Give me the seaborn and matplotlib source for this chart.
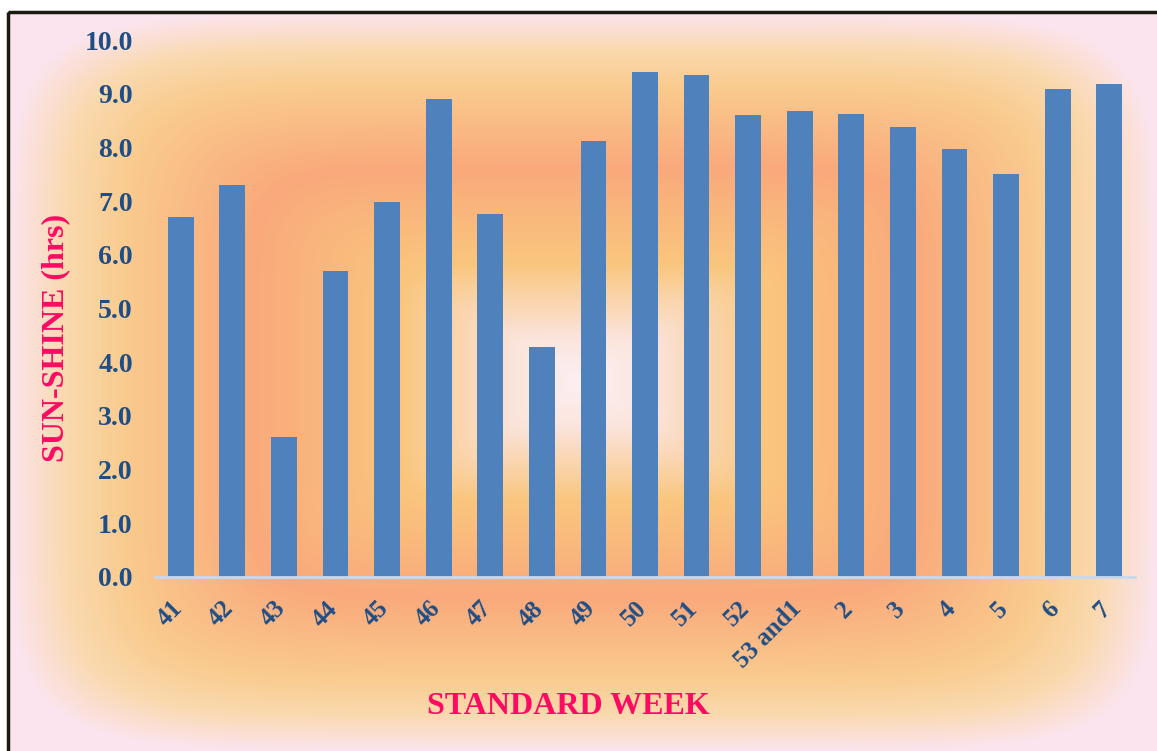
import numpy as np
import pandas as pd
import seaborn as sns
import matplotlib.pyplot as plt
import matplotlib.transforms as mtransforms
from matplotlib.colors import LinearSegmentedColormap
from matplotlib.patches import Rectangle

# Data
weeks = ['41', '42', '43', '44', '45', '46', '47', '48', '49', '50',
         '51', '52', '53 and1', '2', '3', '4', '5', '6', '7']
sunshine = [6.70, 7.30, 2.61, 5.70, 6.98, 8.90, 6.76, 4.28, 8.12, 9.40,
            9.35, 8.60, 8.68, 8.62, 8.38, 7.97, 7.50, 9.09, 9.18]
yticks = [0, 1, 2, 3, 4, 5, 6, 7, 8, 9, 10]

df = pd.DataFrame({'week': weeks, 'sunshine': sunshine})

sns.set_style('white')
plt.rcParams['font.family'] = ['Liberation Serif', 'DejaVu Serif']

W, H = 1157, 751
fig = plt.figure(figsize=(W / 100, H / 100), dpi=100)

# Background: rectangular gradient from the centre, inside a black frame
bg = fig.add_axes([0, 0, 1, 1], zorder=-2)
x0, y0 = 8, 12
xs = np.arange(W)
ys = np.arange(H)
X, Y = np.meshgrid(xs, ys)
cx, cy = (x0 + W) / 2, (y0 + H) / 2
hx, hy = (W - x0) / 2, (H - y0) / 2
p = 7
d = ((np.abs(X - cx) / hx) ** p + (np.abs(Y - cy) / hy) ** p) ** (1 / p)
d = np.clip(d, 0, 1)
cmap = LinearSegmentedColormap.from_list('bg', [
    (0.00, '#FCF0F3'), (0.12, '#FBE4DC'), (0.32, '#F9C67E'),
    (0.58, '#F9A97B'), (0.80, '#F9CB8E'), (0.90, '#FAD9AE'),
    (1.00, '#FCE4EE')])
img = cmap(d)
img[:y0, :, :3] = 1.0
img[:, :x0, :3] = 1.0
bg.imshow(img, extent=[0, W, H, 0], aspect='auto', interpolation='bilinear')
bg.set_xlim(0, W)
bg.set_ylim(H, 0)
bg.axis('off')
bg.add_patch(Rectangle((x0, y0), W + 20, H + 20, fill=False,
                       edgecolor='#1a1a10', linewidth=2.5))

# Main chart
ax = fig.add_axes([155 / W, 1 - 577 / H, (1135 - 155) / W, (577 - 40) / H])
ax.set_facecolor('none')
sns.barplot(data=df, x='week', y='sunshine', color='#4F81BD', saturation=1,
            width=0.5, linewidth=0, ax=ax, zorder=3)

ax.set_xlim(-0.5, len(weeks) - 0.5)
ax.set_ylim(0, 10)
ax.set_yticks(yticks)
ax.set_yticklabels([f'{v:.1f}' for v in yticks], fontsize=20,
                   fontweight='bold', color='#1F4E86')
ax.set_xticks(range(len(weeks)))
ax.set_xticklabels([])
ax.tick_params(axis='both', length=0)
ax.tick_params(axis='y', pad=16)

# rotated week labels, end of text just right of the bar centre
shift = mtransforms.ScaledTranslation(6 / 100, -20 / 100, fig.dpi_scale_trans)
for i, w in enumerate(weeks):
    ax.text(i, 0, w, transform=ax.get_xaxis_transform() + shift,
            rotation=45, ha='right', va='top', fontsize=18,
            fontweight='bold', color='#1F4E86')

for s in ['top', 'right', 'left']:
    ax.spines[s].set_visible(False)
ax.spines['bottom'].set_color('#C6D9F1')
ax.spines['bottom'].set_linewidth(2)
ax.spines['bottom'].set_zorder(4)

ax.set_xlabel('')
ax.set_ylabel('')
fig.text(568 / W, 1 - 706 / H, 'STANDARD WEEK', ha='center', va='center',
         fontsize=23, fontweight='bold', color='#FF0A62')
fig.text(56 / W, 1 - 338 / H, 'SUN-SHINE (hrs)', ha='center', va='center',
         rotation=90, fontsize=23, fontweight='bold', color='#FF0A62')

fig.savefig('out.png', dpi=100)
